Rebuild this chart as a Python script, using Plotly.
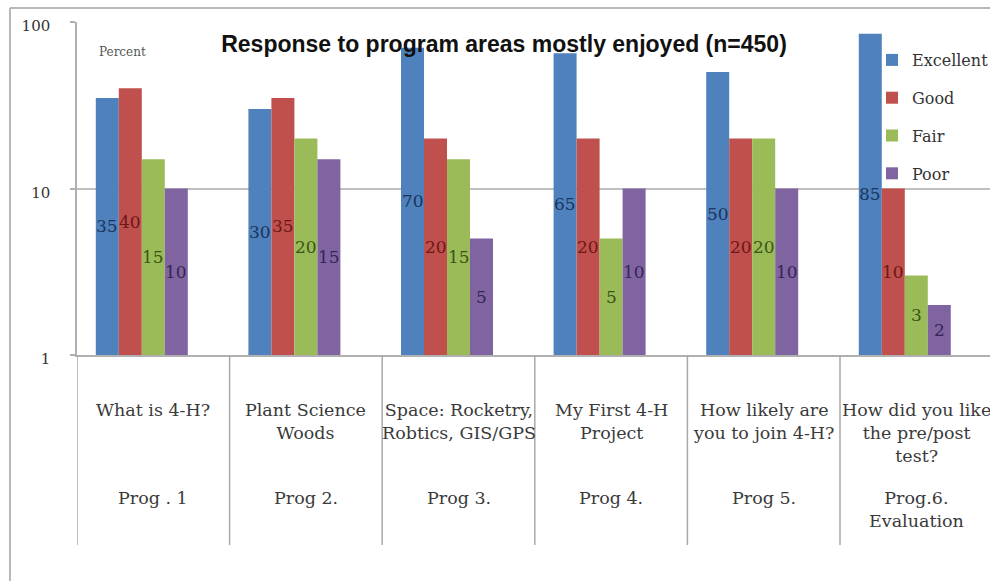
import math
import plotly.graph_objects as go

# ---- data ----
programs = ["What is 4-H?", "Plant Science<br>Woods", "Space: Rocketry,<br>Robtics, GIS/GPS",
            "My First 4-H<br>Project", "How likely are<br>you to join 4-H?",
            "How did you like<br>the pre/post<br>test?"]
prog_ids = ["Prog . 1", "Prog 2.", "Prog 3.", "Prog 4.", "Prog 5.", "Prog.6.<br>Evaluation"]
series_names = ["Excellent", "Good", "Fair", "Poor"]
excellent = [35, 30, 70, 65, 50, 85]
good = [40, 35, 20, 20, 20, 10]
fair = [15, 20, 15, 5, 20, 3]
poor = [10, 15, 5, 10, 10, 2]
series_values = [excellent, good, fair, poor]
y_ticks = [1, 10, 100]

# ---- style ----
bar_colors = ["#4F81BD", "#C0504D", "#9BBB59", "#8064A2"]
label_colors = ["#1A355E", "#6E1715", "#3A5513", "#362552"]
serif = "DejaVu Serif, serif"
W = 990
H = 581
ML, MT, MB = 77, 22, 226
plot_w = W - ML
plot_h = H - MT - MB
x_range = [-0.5, 5.483]
cat_px = plot_w / (x_range[1] - x_range[0])
slot = 23 / cat_px  # bar width in category units (5 slots, last empty)

fig = go.Figure()
for s, (name, vals) in enumerate(zip(series_names, series_values)):
    fig.add_trace(go.Bar(
        name=name, x=programs, y=vals,
        width=slot, offset=(s - 2.5) * slot,
        marker=dict(color=bar_colors[s], line=dict(width=0)),
        legendgroup=name,
    ))

annotations = []
# value labels, centred within each bar in log space
for s, vals in enumerate(series_values):
    for i, v in enumerate(vals):
        annotations.append(dict(
            x=i + (s - 2) * slot, y=0.5 * math.log10(v), xref="x", yref="y",
            text=str(v), showarrow=False, xanchor="center", yanchor="middle",
            font=dict(family=serif, size=17, color=label_colors[s]),
        ))

def py(pix):
    return (H - MB - pix) / plot_h

def px(pix):
    return (pix - ML) / plot_w

for i, (p, pid) in enumerate(zip(programs, prog_ids)):
    annotations.append(dict(
        x=i, y=py(398), xref="x", yref="paper", text=p, showarrow=False,
        xanchor="center", yanchor="top", align="center",
        font=dict(family=serif, size=17.5, color="#3a3a3a"),
    ))
    annotations.append(dict(
        x=i, y=py(486), xref="x", yref="paper", text=pid, showarrow=False,
        xanchor="center", yanchor="top", align="center",
        font=dict(family=serif, size=17.5, color="#3a3a3a"),
    ))

annotations.append(dict(
    x=px(97), y=py(52), xref="paper", yref="paper", text="Percent", showarrow=False,
    xanchor="left", yanchor="middle", font=dict(family=serif, size=12, color="#555555"),
))

shapes = []
for i in range(len(programs) + 1):
    shapes.append(dict(type="line", xref="x", yref="paper", x0=i - 0.5, x1=i - 0.5,
                       y0=0, y1=py(545), line=dict(color="#a8a8a8", width=1.5)))
# outer chart frame (top and left edges visible)
shapes.append(dict(type="line", xref="paper", yref="paper", x0=px(10), x1=px(1000),
                   y0=py(8), y1=py(8), line=dict(color="#b8b8b8", width=2)))
shapes.append(dict(type="line", xref="paper", yref="paper", x0=px(10), x1=px(10),
                   y0=py(8), y1=py(590), line=dict(color="#b8b8b8", width=2)))

fig.update_layout(
    width=W, height=H,
    margin=dict(l=ML, r=0, t=MT, b=MB, pad=0, autoexpand=False),
    paper_bgcolor="white", plot_bgcolor="white",
    barmode="overlay",
    title=dict(text="<b>Response to program areas mostly enjoyed (n=450)</b>",
               x=px(504), xref="paper", xanchor="center",
               y=1 - 44 / H, yref="container", yanchor="middle",
               font=dict(family="Liberation Sans", size=23, color="#111111")),
    legend=dict(x=px(872), y=py(43), xref="paper", yref="paper",
                xanchor="left", yanchor="top", tracegroupgap=14,
                font=dict(family=serif, size=16, color="#333333"),
                bgcolor="rgba(0,0,0,0)"),
    annotations=annotations, shapes=shapes,
    xaxis=dict(type="category", range=x_range, showticklabels=False, ticks="",
               showgrid=False, showline=True, linecolor="#b0b0b0", linewidth=1.5,
               zeroline=False, fixedrange=True),
    yaxis=dict(type="log", range=[0, 2], tickvals=y_ticks, ticktext=[str(t) for t in y_ticks],
               showgrid=True, gridcolor="#c0c0c0", gridwidth=1.5,
               showline=True, linecolor="#b0b0b0", linewidth=1.5,
               ticks="outside", ticklen=5, tickcolor="#b0b0b0", tickwidth=1.5,
               ticklabelstandoff=17, ticklabelshift=4,
               tickfont=dict(family=serif, size=15, color="#333333"),
               zeroline=False, fixedrange=True),
)

fig.write_html("out.html")
